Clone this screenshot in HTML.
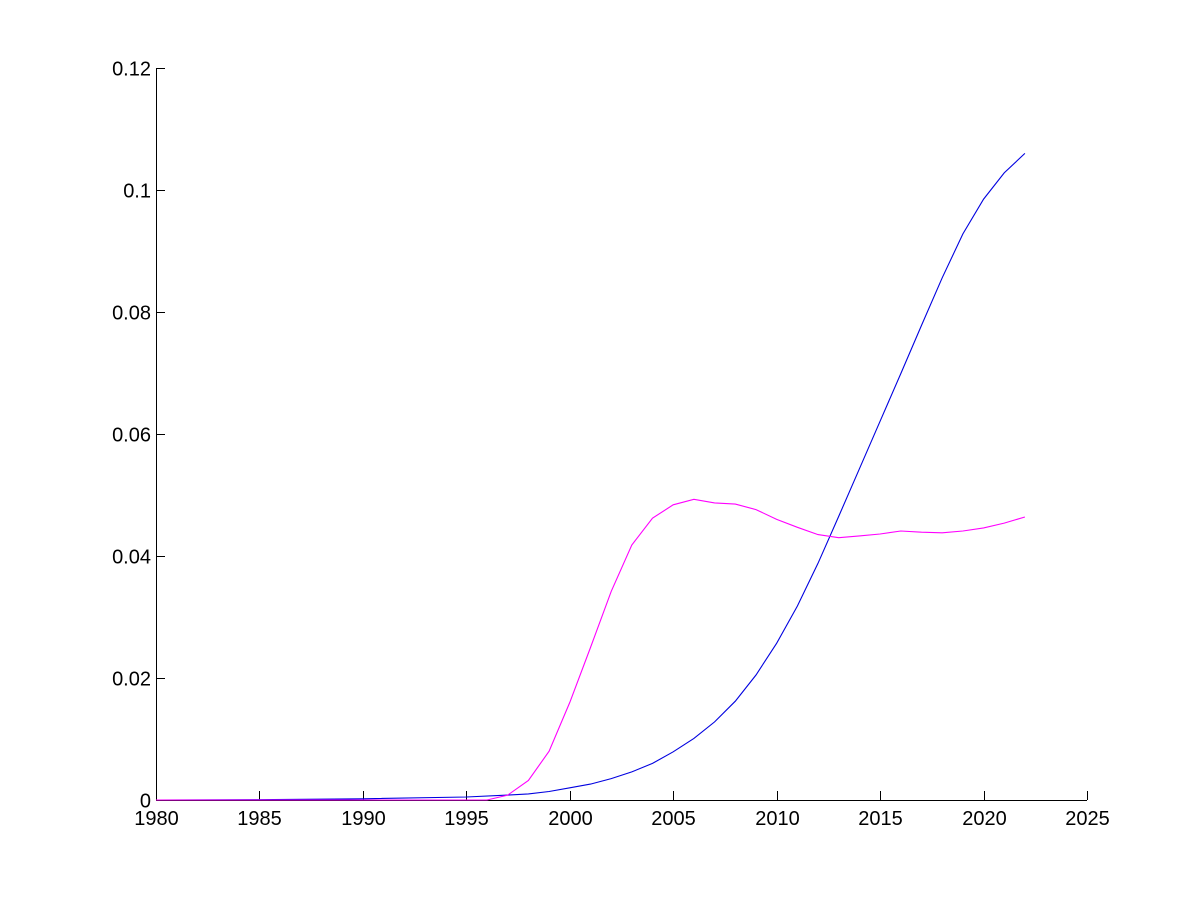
<!DOCTYPE html>
<html><head><meta charset="utf-8"><style>
html,body{margin:0;padding:0;background:#fff;}
svg text{font-family:"Liberation Sans",Arial,sans-serif;font-size:20px;fill:#000;}
</style></head><body>
<svg id="s" width="1200" height="900" xmlns="http://www.w3.org/2000/svg">
<rect width="1200" height="900" fill="#fff"/>
<g id="ax" stroke="#000" stroke-width="1" fill="none" shape-rendering="crispEdges"></g>
<g id="lab"></g>
<polyline id="b" fill="none" stroke="#0000e0" stroke-width="1.1"/>
<polyline id="m" fill="none" stroke="#ff00ff" stroke-width="1.1"/>
</svg>
<script>
var X0=156,X1=1087,Y0=800,Y1=68;
function px(x){return X0+(x-1980)*(X1-X0)/45;}
function py(y){return Y0-y*(Y0-Y1)/0.12;}
var ax=document.getElementById('ax'),lab=document.getElementById('lab'),ns="http://www.w3.org/2000/svg";
function el(p,t,a,txt){var e=document.createElementNS(ns,t);for(var k in a)e.setAttribute(k,a[k]);if(txt!=null)e.textContent=txt;p.appendChild(e);}
el(ax,'line',{x1:X0+.5,y1:Y1,x2:X0+.5,y2:Y0+.5});
el(ax,'line',{x1:X0,y1:Y0+.5,x2:X1,y2:Y0+.5});
for(var i=0;i<=9;i++){var x=Math.round(px(1980+5*i))+.5;el(ax,'line',{x1:x,y1:Y0,x2:x,y2:Y0-9});
el(lab,'text',{x:x,y:Y0+25,'text-anchor':'middle'},String(1980+5*i));}
var yl=['0','0.02','0.04','0.06','0.08','0.1','0.12'];
for(var i=0;i<=6;i++){var y=Math.round(py(0.02*i))+.5;el(ax,'line',{x1:X0,y1:y,x2:X0+9,y2:y});
el(lab,'text',{x:X0-5,y:y+7,'text-anchor':'end'},yl[i]);}
var B=[[1980,0],[1985,0.00005],[1990,0.0002],[1995,0.0005],[1997,0.0008],[1998,0.001],[1999,0.0014],[2000,0.002],[2001,0.0026],[2002,0.0035],[2003,0.0046],[2004,0.006],[2005,0.0079],[2006,0.0101],[2007,0.0128],[2008,0.0162],[2009,0.0205],[2010,0.0257],[2011,0.0318],[2012,0.0388],[2013,0.0465],[2014,0.0543],[2015,0.0621],[2016,0.0699],[2017,0.0778],[2018,0.0856],[2019,0.0928],[2020,0.0985],[2021,0.1028],[2022,0.106]];
var M=[[1980,0],[1996,0],[1997,0.0008],[1998,0.0032],[1999,0.008],[2000,0.016],[2001,0.025],[2002,0.0342],[2003,0.0418],[2004,0.0462],[2005,0.0484],[2006,0.0493],[2007,0.0487],[2008,0.0485],[2009,0.0476],[2010,0.046],[2011,0.0447],[2012,0.0435],[2013,0.043],[2014,0.0433],[2015,0.0436],[2016,0.0441],[2017,0.0439],[2018,0.0438],[2019,0.0441],[2020,0.0446],[2021,0.0454],[2022,0.0464]];
function pts(a){return a.map(function(p){return px(p[0]).toFixed(1)+','+py(p[1]).toFixed(1);}).join(' ');}
document.getElementById('b').setAttribute('points',pts(B));
document.getElementById('m').setAttribute('points',pts(M));
</script>
</body></html>
